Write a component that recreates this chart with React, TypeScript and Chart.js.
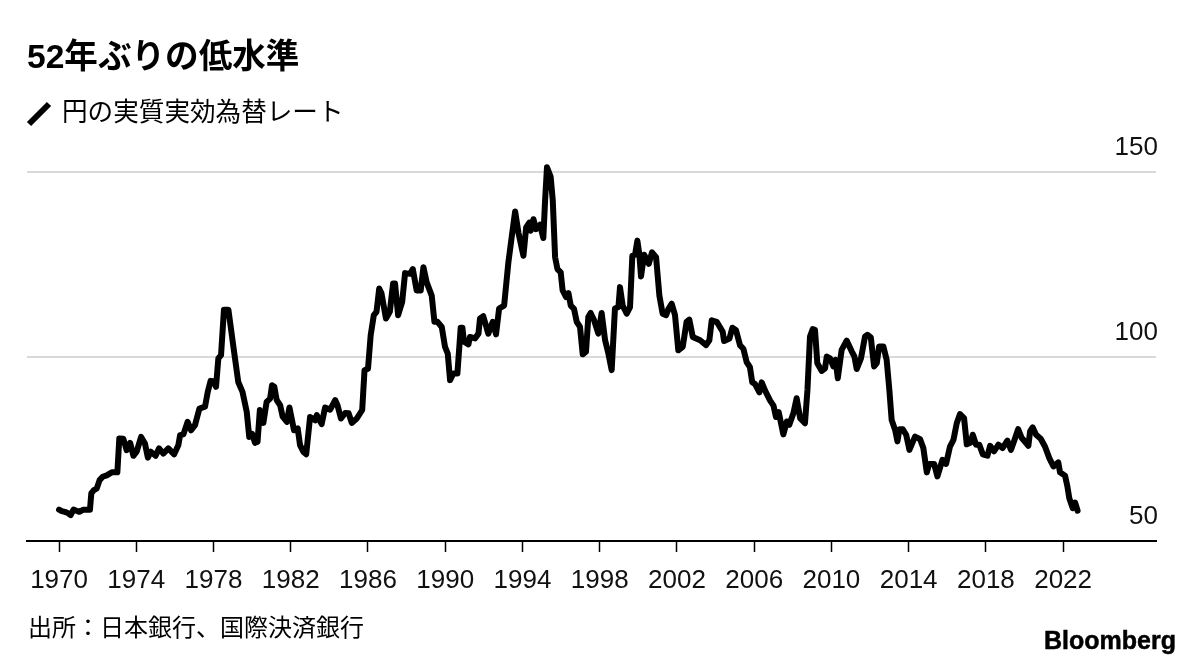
import { useEffect, useRef } from "react";
import { Chart, registerables } from "chart.js";

Chart.register(...registerables);

const FONT = '"Liberation Sans", "Noto Sans CJK JP", sans-serif';

const titleText = "52年ぶりの低水準";
const seriesName = "円の実質実効為替レート";
const sourceText = "出所：日本銀行、国際決済銀行";
const brandText = "Bloomberg";

const yearTicks = [1970, 1974, 1978, 1982, 1986, 1990, 1994, 1998, 2002, 2006, 2010, 2014, 2018, 2022];
const valueTicks = [50, 100, 150];

const rateYears = [
  1970.0, 1970.14, 1970.3, 1970.45, 1970.6, 1970.75, 1970.9, 1971.05, 1971.26, 1971.6,
  1971.67, 1971.8, 1971.95, 1972.1, 1972.26, 1972.47, 1972.73, 1973.02, 1973.12, 1973.33,
  1973.5, 1973.68, 1973.85, 1974.02, 1974.25, 1974.45, 1974.6, 1974.75, 1975.0, 1975.18,
  1975.4, 1975.66, 1975.96, 1976.18, 1976.27, 1976.44, 1976.66, 1976.84, 1977.04, 1977.27,
  1977.56, 1977.7, 1977.85, 1978.0, 1978.13, 1978.25, 1978.39, 1978.54, 1978.77, 1979.03,
  1979.28, 1979.5, 1979.72, 1979.85, 1980.0, 1980.15, 1980.28, 1980.4, 1980.58, 1980.75,
  1980.93, 1981.03, 1981.15, 1981.27, 1981.45, 1981.58, 1981.8, 1981.93, 1982.17, 1982.36,
  1982.48, 1982.65, 1982.8, 1983.0, 1983.26, 1983.35, 1983.6, 1983.78, 1984.04, 1984.3,
  1984.42, 1984.6, 1984.82, 1985.0, 1985.16, 1985.42, 1985.7, 1985.82, 1986.0, 1986.14,
  1986.3, 1986.44, 1986.58, 1986.7, 1986.93, 1987.13, 1987.3, 1987.4, 1987.56, 1987.77,
  1987.92, 1988.18, 1988.32, 1988.52, 1988.73, 1988.87, 1989.04, 1989.3, 1989.44, 1989.6,
  1989.82, 1989.99, 1990.13, 1990.25, 1990.42, 1990.63, 1990.8, 1990.89, 1990.97, 1991.2,
  1991.28, 1991.54, 1991.72, 1991.8, 1991.97, 1992.23, 1992.46, 1992.63, 1992.79, 1993.05,
  1993.27, 1993.44, 1993.62, 1993.79, 1994.05, 1994.19, 1994.36, 1994.43, 1994.57, 1994.7,
  1994.91, 1995.08, 1995.17, 1995.27, 1995.46, 1995.57, 1995.69, 1995.81, 1995.98, 1996.08,
  1996.26, 1996.38, 1996.5, 1996.67, 1996.81, 1996.98, 1997.12, 1997.29, 1997.41, 1997.53,
  1997.71, 1997.93, 1998.1, 1998.28, 1998.45, 1998.62, 1998.79, 1998.97, 1999.05, 1999.19,
  1999.4, 1999.57, 1999.69, 1999.83, 1999.95, 2000.05, 2000.14, 2000.3, 2000.54, 2000.71,
  2000.92, 2001.09, 2001.26, 2001.44, 2001.56, 2001.73, 2001.9, 2002.07, 2002.3, 2002.5,
  2002.64, 2002.82, 2003.2, 2003.51, 2003.68, 2003.8, 2004.06, 2004.37, 2004.44, 2004.72,
  2004.87, 2005.06, 2005.27, 2005.44, 2005.61, 2005.78, 2005.9, 2006.04, 2006.27, 2006.39,
  2006.56, 2006.82, 2007.0, 2007.13, 2007.27, 2007.51, 2007.69, 2007.82, 2008.03, 2008.2,
  2008.38, 2008.63, 2008.76, 2008.89, 2009.03, 2009.15, 2009.27, 2009.5, 2009.67, 2009.76,
  2009.93, 2010.1, 2010.22, 2010.33, 2010.53, 2010.79, 2011.05, 2011.19, 2011.31, 2011.53,
  2011.74, 2011.86, 2012.04, 2012.21, 2012.35, 2012.47, 2012.69, 2012.86, 2013.0, 2013.12,
  2013.3, 2013.42, 2013.52, 2013.69, 2013.87, 2014.04, 2014.33, 2014.59, 2014.76, 2014.94,
  2015.06, 2015.32, 2015.49, 2015.75, 2015.94, 2016.14, 2016.32, 2016.49, 2016.66, 2016.87,
  2017.01, 2017.21, 2017.32, 2017.49, 2017.66, 2017.84, 2018.08, 2018.22, 2018.42, 2018.65,
  2018.87, 2019.11, 2019.3, 2019.48, 2019.67, 2019.86, 2020.2, 2020.29, 2020.42, 2020.6,
  2020.84, 2021.06, 2021.29, 2021.5, 2021.75, 2021.84, 2022.1, 2022.22, 2022.32, 2022.5,
  2022.62, 2022.75,
];

const rateValues = [
  58.5, 58.1, 57.9, 57.6, 57.0, 58.5, 58.2, 57.9, 58.5, 58.5,
  62.9, 63.8, 64.2, 66.5, 67.4, 67.8, 68.6, 68.6, 77.8, 77.7,
  74.6, 76.6, 73.1, 74.2, 78.2, 76.4, 72.6, 74.2, 73.1, 75.1,
  73.7, 75.1, 73.5, 76.0, 78.7, 78.9, 82.3, 80.0, 81.4, 85.9,
  86.4, 90.4, 93.4, 93.3, 91.8, 99.5, 100.4, 112.7, 112.7, 102.6,
  93.1, 90.4, 85.0, 78.2, 79.0, 76.6, 76.9, 85.5, 82.0, 87.7,
  88.6, 92.2, 91.8, 88.2, 86.8, 83.7, 82.3, 86.2, 80.0, 80.5,
  76.0, 74.2, 73.5, 83.6, 82.7, 84.1, 81.7, 86.2, 85.6, 88.2,
  86.8, 83.2, 84.7, 84.6, 82.0, 83.2, 85.5, 96.3, 96.7, 105.8,
  111.2, 112.1, 118.4, 117.1, 110.3, 112.1, 119.8, 119.8, 111.2, 114.8,
  122.6, 122.4, 123.7, 117.9, 117.9, 124.2, 120.1, 116.5, 109.4, 109.4,
  108.0, 102.6, 100.8, 93.6, 95.4, 95.4, 107.8, 107.8, 104.0, 103.3,
  105.3, 104.9, 106.2, 110.3, 110.9, 106.2, 109.4, 106.0, 113.0, 113.8,
  125.5, 132.3, 139.3, 133.6, 127.3, 135.0, 136.3, 134.1, 137.2, 134.5,
  135.7, 132.1, 142.2, 151.3, 148.7, 142.2, 126.9, 123.7, 122.8, 117.9,
  116.1, 117.2, 113.8, 112.9, 109.4, 108.0, 100.6, 101.3, 110.7, 111.8,
  109.8, 106.2, 111.8, 104.4, 100.8, 96.3, 113.0, 113.4, 118.8, 113.8,
  111.6, 113.4, 127.3, 127.6, 131.4, 127.8, 121.7, 127.6, 125.1, 128.2,
  126.9, 116.5, 111.6, 111.2, 112.9, 114.3, 111.2, 101.7, 102.6, 109.4,
  110.0, 105.3, 104.4, 103.1, 104.4, 109.8, 109.4, 106.7, 104.2, 104.9,
  107.8, 107.1, 103.0, 102.1, 98.5, 97.1, 93.0, 92.6, 90.3, 93.0,
  90.8, 88.1, 86.7, 83.6, 84.9, 78.9, 82.4, 81.5, 84.6, 88.7,
  83.3, 81.9, 91.0, 105.4, 107.4, 107.2, 98.2, 96.1, 96.8, 100.0,
  99.5, 97.3, 99.1, 94.1, 101.8, 104.3, 101.4, 100.0, 96.6, 99.5,
  105.4, 105.9, 105.2, 97.3, 98.2, 102.7, 102.7, 99.1, 91.0, 82.8,
  80.1, 77.0, 80.3, 80.3, 78.8, 74.7, 78.3, 77.6, 75.2, 68.6,
  70.9, 70.9, 67.5, 72.0, 70.9, 75.6, 77.4, 81.9, 84.4, 83.3,
  76.2, 76.7, 78.8, 76.1, 76.1, 73.5, 73.1, 75.8, 74.3, 76.1,
  75.2, 77.2, 74.7, 77.4, 80.3, 77.9, 75.8, 79.7, 80.8, 78.8,
  77.7, 75.6, 72.4, 70.2, 71.3, 68.6, 67.7, 64.8, 61.6, 58.9,
  60.4, 58.2,
];

const textStyle = (left: number, top: number, size: number): React.CSSProperties => ({
  position: "absolute",
  left,
  top,
  fontFamily: FONT,
  fontSize: size,
  lineHeight: `${size + 4}px`,
  color: "#000",
  whiteSpace: "nowrap",
});

export default function App() {
  const chartRef = useRef<HTMLCanvasElement>(null);

  useEffect(() => {
    if (!chartRef.current) return;

    const chart = new Chart(chartRef.current, {
      type: "line",
      data: {
        datasets: [
          {
            label: seriesName,
            data: rateYears.map((year, i) => ({ x: year, y: rateValues[i] })),
            borderColor: "#000",
            borderWidth: 6,
            borderJoinStyle: "round",
            borderCapStyle: "round",
            pointRadius: 0,
            tension: 0,
            clip: false,
          },
        ],
      },
      options: {
        animation: false,
        responsive: false,
        layout: { padding: { left: 27, right: 44, top: 172, bottom: 0 } },
        plugins: {
          legend: { display: false },
          tooltip: { enabled: false },
        },
        scales: {
          x: {
            type: "linear",
            min: 1968.34,
            max: 2026.81,
            afterBuildTicks: (scale) => {
              scale.ticks = yearTicks.map((value) => ({ value }));
            },
            afterFit: (scale) => {
              scale.height = 124;
            },
            border: { color: "#000", width: 2 },
            grid: {
              drawOnChartArea: false,
              color: "#000",
              tickColor: "#000",
              tickLength: 11,
              tickWidth: 1.5,
            },
            ticks: {
              autoSkip: false,
              maxRotation: 0,
              color: "#111",
              padding: 13,
              font: { family: FONT, size: 26 },
              callback: (value) => String(value),
            },
          },
          y: {
            position: "right",
            min: 50,
            max: 150,
            afterBuildTicks: (scale) => {
              scale.ticks = valueTicks.map((value) => ({ value }));
            },
            afterFit: (scale) => {
              scale.width = 0;
            },
            border: { display: false },
            grid: {
              color: (ctx) => (ctx.tick?.value === 50 ? "rgba(0,0,0,0)" : "#d9d9d9"),
              lineWidth: 2,
              drawTicks: false,
            },
            ticks: {
              mirror: true,
              color: "#111",
              padding: 2,
              labelOffset: -24,
              font: { family: FONT, size: 26 },
              callback: (value) => String(value),
            },
          },
        },
      },
    });

    return () => chart.destroy();
  }, []);

  return (
    <div style={{ position: "absolute", left: 0, top: 0, width: 1200, height: 665, background: "#fff", overflow: "hidden" }}>
      <canvas ref={chartRef} width={1200} height={665} style={{ position: "absolute", left: 0, top: 0 }} />
      <div style={{ ...textStyle(27, 38, 33.6), fontWeight: 700 }}>{titleText}</div>
      <svg width={30} height={30} style={{ position: "absolute", left: 24, top: 99 }}>
        <line x1={5} y1={25} x2={25} y2={5} stroke="#000" strokeWidth={6} />
      </svg>
      <div style={textStyle(62, 98, 25.6)}>{seriesName}</div>
      <div style={textStyle(28, 614, 24)}>{sourceText}</div>
      <div style={{ ...textStyle(1044, 626, 25), fontWeight: 700, WebkitTextStroke: "0.5px #000" }}>{brandText}</div>
    </div>
  );
}
